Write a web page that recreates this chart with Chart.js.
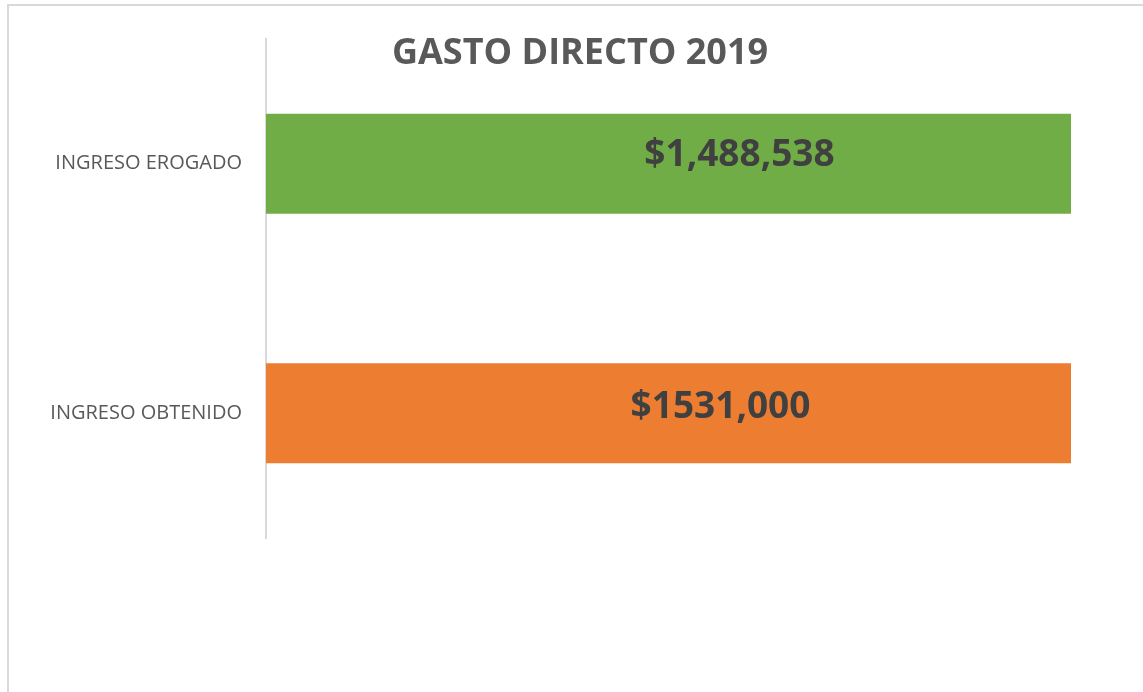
<!DOCTYPE html>
<html>
<head>
<meta charset="utf-8">
<script src="https://cdn.jsdelivr.net/npm/chart.js@4"></script>
<style>
  html, body { margin: 0; padding: 0; background: #fff; overflow: hidden; }
  #frame {
    position: absolute; left: 7px; top: 4px; width: 1200px; height: 720px;
    border-top: 2px solid #d9d9d9; border-left: 2px solid #d9d9d9;
  }
  #wrap { position: absolute; left: 0; top: 0; width: 1143px; height: 692px; }
</style>
</head>
<body>
<div id="frame"></div>
<div id="wrap"><canvas id="gasto" width="1143" height="692"></canvas></div>
<script>
const titleText = "GASTO DIRECTO 2019";
const categories = ["INGRESO EROGADO", "INGRESO OBTENIDO"];
const values = [1488538, 1531000];
const valueLabels = ["$1,488,538", "$1531,000"];
const barColors = ["#70ad47", "#ed7d31"];

// labels sit a bit right of the bar centre, like the original
const labelShiftX = [71, 52];

const barText = {
  id: "barText",
  afterDatasetsDraw(chart) {
    const ctx = chart.ctx;
    const meta = chart.getDatasetMeta(0);
    ctx.save();
    ctx.font = "bold 37px 'Open Sans'";
    ctx.fillStyle = "#404040";
    ctx.textAlign = "center";
    ctx.textBaseline = "alphabetic";
    const area = chart.chartArea;
    meta.data.forEach((bar, i) => {
      const cx = (area.left + Math.min(bar.x, area.right)) / 2 + labelShiftX[i];
      ctx.fillText(valueLabels[i], cx, bar.y + 2 + i * 3);
    });
    ctx.restore();
  },
  afterDraw(chart) {
    const ctx = chart.ctx;
    ctx.save();
    ctx.font = "bold 36px 'Open Sans'";
    ctx.fillStyle = "#595959";
    ctx.textAlign = "center";
    ctx.textBaseline = "alphabetic";
    ctx.fillText(titleText, 580, 64);
    ctx.restore();
  }
};

new Chart(document.getElementById("gasto"), {
  type: "bar",
  data: {
    labels: categories,
    datasets: [{
      data: values,
      backgroundColor: barColors,
      borderWidth: 0,
      categoryPercentage: 0.8,
      barPercentage: 0.5
    }]
  },
  options: {
    indexAxis: "y",
    responsive: false,
    animation: false,
    layout: { padding: { top: 39, bottom: 154, right: 72, left: 0 } },
    plugins: {
      legend: { display: false },
      tooltip: { enabled: false },
      title: { display: false }
    },
    scales: {
      x: {
        display: false,
        min: 0,
        max: values[0]
      },
      y: {
        afterFit(scale) { scale.width = 266; },
        grid: { display: false },
        border: { display: true, color: "#d9d9d9", width: 2 },
        ticks: {
          padding: 16,
          color: "#595959",
          font: { family: "'Open Sans'", size: 20 }
        }
      }
    }
  },
  plugins: [barText]
});
</script>
</body>
</html>
